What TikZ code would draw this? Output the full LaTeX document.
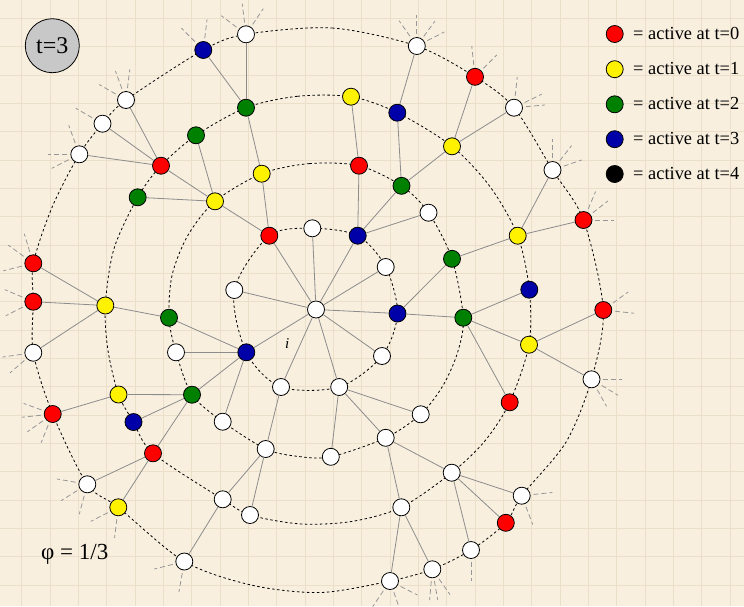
\documentclass[tikz,border=0pt]{standalone}
\usepackage{fontspec}
\setmainfont{Liberation Serif}
\usetikzlibrary{backgrounds}
\definecolor{paper}{RGB}{248,239,223}
\definecolor{gridc}{RGB}{235,223,201}
\definecolor{ngreen}{RGB}{0,128,0}
\definecolor{nblue}{RGB}{0,0,168}
\definecolor{edgec}{RGB}{140,140,140}
\definecolor{stubc}{RGB}{150,150,150}
\definecolor{tgray}{RGB}{200,200,200}
\tikzset{
 nd/.style={circle, draw=black, line width=0.8pt, minimum size=17pt, inner sep=0pt},
 wh/.style={nd, fill=white}, rd/.style={nd, fill=red}, ye/.style={nd, fill=yellow},
 gr/.style={nd, fill=ngreen}, bl/.style={nd, fill=nblue}, bk/.style={nd, fill=black},
 edge/.style={draw=edgec, line width=0.8pt},
 ring/.style={draw=black, line width=0.8pt, dash pattern=on 2.5pt off 2.5pt},
 stub/.style={draw=stubc, line width=0.8pt, dash pattern=on 5pt off 3pt},
 legtext/.style={anchor=base west, inner sep=0pt, font=\fontsize{18.4}{20}\selectfont},
}
\newcommand\stubs[2]{\foreach \ang in {#2}{\draw[stub] (#1.\ang) ++(\ang:3pt) -- ++(\ang:19pt);}}
\begin{document}
\begin{tikzpicture}[x=1pt,y=-1pt]
\useasboundingbox (0,0) rectangle (744,606);
% centre and ring 1
\node[wh] (ctr) at (316,309.5) {};
\node[wh] (a1) at (312.3,228.3) {};
\node[bl] (a2) at (357.7,235.7) {};
\node[wh] (a3) at (385.7,267) {};
\node[bl] (a4) at (397.5,313.5) {};
\node[wh] (a5) at (382,356) {};
\node[wh] (a6) at (339.2,387) {};
\node[wh] (a7) at (281,387) {};
\node[bl] (a8) at (246.3,352.3) {};
\node[wh] (a9) at (234.3,290) {};
\node[rd] (a10) at (269.3,235.7) {};
% ring 2
\node[ye] (b1) at (261.7,173.7) {};
\node[rd] (b2) at (359,165.7) {};
\node[gr] (b3) at (401.5,185.8) {};
\node[wh] (b4) at (428.5,212.7) {};
\node[gr] (b5) at (452,258.8) {};
\node[gr] (b6) at (463.3,317.7) {};
\node[wh] (b7) at (420.7,414.3) {};
\node[wh] (b8) at (385.7,437.8) {};
\node[wh] (b9) at (330.8,456.8) {};
\node[wh] (b10) at (265.7,449) {};
\node[wh] (b11) at (222.7,421.7) {};
\node[gr] (b12) at (192,394.7) {};
\node[wh] (b13) at (176,352.3) {};
\node[gr] (b14) at (169,317.7) {};
\node[ye] (b15) at (215,201.3) {};
% ring 3
\node[gr] (c1) at (246,107.7) {};
\node[ye] (c2) at (351,96.7) {};
\node[bl] (c3) at (397.3,112.7) {};
\node[ye] (c4) at (452,146.3) {};
\node[ye] (c5) at (517.7,235.7) {};
\node[bl] (c6) at (529.3,289.7) {};
\node[ye] (c7) at (529,344.7) {};
\node[rd] (c8) at (509.7,402.3) {};
\node[wh] (c9) at (451.7,472.7) {};
\node[wh] (c10) at (401.3,507.3) {};
\node[wh] (c11) at (250,515) {};
\node[wh] (c12) at (222.7,499.3) {};
\node[rd] (c13) at (153,453.3) {};
\node[bl] (c14) at (133.5,422) {};
\node[ye] (c15) at (118.5,394.5) {};
\node[ye] (c16) at (105.3,305.5) {};
\node[gr] (c17) at (137.7,197.3) {};
\node[rd] (c18) at (161,165.7) {};
\node[gr] (c19) at (196,135.3) {};
% ring 4
\node[wh] (d1) at (246,34.3) {};
\node[wh] (d2) at (416.8,46) {};
\node[rd] (d3) at (475,76.8) {};
\node[wh] (d4) at (514,107.7) {};
\node[wh] (d5) at (552.5,170) {};
\node[rd] (d6) at (583.5,220) {};
\node[rd] (d7) at (603.3,310) {};
\node[wh] (d8) at (591.5,379.3) {};
\node[wh] (d9) at (521.7,495.7) {};
\node[rd] (d10) at (505.8,522.8) {};
\node[wh] (d11) at (471,550) {};
\node[wh] (d12) at (432.3,569.3) {};
\node[wh] (d13) at (390,581) {};
\node[wh] (d14) at (184.3,561.5) {};
\node[ye] (d15) at (118.3,507.3) {};
\node[wh] (d16) at (87.3,484.3) {};
\node[rd] (d17) at (52.7,414) {};
\node[wh] (d18) at (33.3,352.7) {};
\node[rd] (d19) at (33.3,301.7) {};
\node[rd] (d20) at (33.3,263.3) {};
\node[wh] (d21) at (79.3,154.3) {};
\node[wh] (d22) at (102.5,123.7) {};
\node[wh] (d23) at (126,100) {};
\node[bl] (d24) at (203.3,50) {};
% labels
\node[circle, draw=black, line width=0.8pt, fill=tgray, minimum size=54pt, inner sep=0pt, font=\fontsize{24}{26}\selectfont] (tlab) at (52.3,45.7) {t=3};
\node[anchor=base west, inner sep=0pt, font=\fontsize{23}{25}\selectfont] (phi) at (41,559) {φ = 1/3};
\node[inner sep=0pt, font=\itshape\fontsize{15}{16}\selectfont] (ilab) at (287.3,344) {i};
% legend
\node[rd] (l0) at (614.7,34) {};
\node[ye] (l1) at (614.7,69.2) {};
\node[gr] (l2) at (614.7,104.3) {};
\node[bl] (l3) at (614.7,139.2) {};
\node[bk] (l4) at (614.7,174) {};
\node[legtext] (t0) at (633,39.2) {= active at t=0};
\node[legtext] (t1) at (633,74.4) {= active at t=1};
\node[legtext] (t2) at (633,109.5) {= active at t=2};
\node[legtext] (t3) at (633,144.4) {= active at t=3};
\node[legtext] (t4) at (633,179.2) {= active at t=4};
\begin{pgfonlayer}{background}
\fill[paper] (0,0) rectangle (744,606);
\foreach \i in {0,...,25} \draw[gridc, line width=0.7pt] (21.7+28.33*\i,0) -- (21.7+28.33*\i,606);
\foreach \i in {0,...,20} \draw[gridc, line width=0.7pt] (0,18.3+28.33*\i) -- (744,18.3+28.33*\i);
\draw[ring] plot[smooth cycle] coordinates {(a1.center) (a2.center) (a3.center) (a4.center) (a5.center) (a6.center) (a7.center) (a8.center) (a9.center) (a10.center)};
\draw[ring] plot[smooth cycle] coordinates {(b1.center) (309.4,163.6) (b2.center) (b3.center) (b4.center) (b5.center) (b6.center) (457.5,352.7) (442.9,385.7) (b7.center) (b8.center) (b9.center) (298,456.4) (b10.center) (b11.center) (b12.center) (b13.center) (b14.center) (172.1,275) (187.8,235.5) (b15.center)};
\draw[ring] plot[smooth cycle] coordinates {(c1.center) (297.3,96.3) (c2.center) (c3.center) (c4.center) (490.5,187.3) (c5.center) (c6.center) (c7.center) (c8.center) (484.6,441.3) (c9.center) (c10.center) (351.5,521.5) (300.3,523.9) (c11.center) (c12.center) (c13.center) (c14.center) (c15.center) (107.9,349.9) (c16.center) (113.9,248.9) (c17.center) (c18.center) (c19.center)};
\draw[ring] plot[smooth cycle] coordinates {(d1.center) (332.2,28) (d2.center) (d3.center) (d4.center) (d5.center) (d6.center) (d7.center) (d8.center) (565.9,442.3) (d9.center) (d10.center) (d11.center) (d12.center) (d13.center) (320.9,592.5) (252.3,585.3) (d14.center) (d15.center) (d16.center) (d17.center) (d18.center) (d19.center) (d20.center) (52.3,206.7) (d21.center) (d22.center) (d23.center) (d24.center)};
\end{pgfonlayer}
% edges
\foreach \u/\v in {ctr/a1,ctr/a2,ctr/a3,ctr/a4,ctr/a5,ctr/a6,ctr/a7,ctr/a8,ctr/a9,ctr/a10,
 a10/b1,a10/b15,a2/b2,a2/b3,a2/b4,a4/b5,a4/b6,a6/b7,a6/b8,a6/b9,a7/b10,a8/b11,a8/b12,a8/b13,a8/b14,
 b1/c1,b2/c2,b3/c3,b3/c4,b5/c5,b6/c6,b6/c7,b6/c8,b8/c9,b8/c10,b10/c11,b10/c12,b12/c13,b12/c14,b12/c15,b14/c16,b15/c17,b15/c18,b15/c19,
 c1/d1,c1/d24,c3/d2,c4/d3,c4/d4,c5/d5,c5/d6,c7/d7,c7/d8,c9/d9,c9/d10,c9/d11,c10/d12,c10/d13,c12/d14,c13/d15,c13/d16,c15/d17,c16/d18,c16/d19,c16/d20,c18/d21,c18/d22,c18/d23}
 \draw[edge] (\u) -- (\v);
% stubs
\stubs{d1}{143,97,56}
\stubs{d24}{135,83}
\stubs{d23}{150,110,83}
\stubs{d22}{150}
\stubs{d21}{110,180,207}
\stubs{d20}{107,144,194}
\stubs{d19}{157,207}
\stubs{d18}{188,221}
\stubs{d17}{160,186,215,248}
\stubs{d16}{170,212,255}
\stubs{d15}{207,263}
\stubs{d14}{194,260}
\stubs{d13}{236,289,333}
\stubs{d12}{265,280,305}
\stubs{d11}{270}
\stubs{d9}{6,291}
\stubs{d8}{0,329,299}
\stubs{d7}{36,354}
\stubs{d6}{67,38,0}
\stubs{d5}{90,52,19}
\stubs{d4}{84,26,5}
\stubs{d3}{96,45}
\stubs{d2}{125,90,54,27}
\end{tikzpicture}
\end{document}
